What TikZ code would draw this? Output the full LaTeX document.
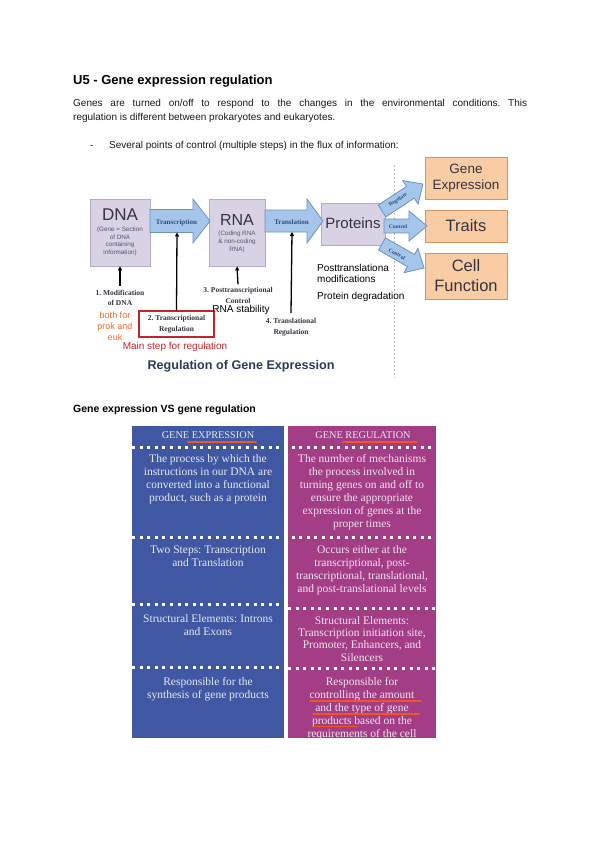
\documentclass[tikz,border=0pt]{standalone}
\usepackage{fontspec}
\setmainfont{Liberation Serif}
\setsansfont{Liberation Sans}
\usetikzlibrary{arrows.meta}
\frenchspacing
\definecolor{boxlav}{HTML}{D8D2E4}
\definecolor{boxlavd}{HTML}{B3AAC6}
\definecolor{arrfill}{HTML}{A5C5EA}
\definecolor{arrdraw}{HTML}{6B93C5}
\definecolor{arrtext}{HTML}{2E4D7E}
\definecolor{peach}{HTML}{F9CCA4}
\definecolor{peachd}{HTML}{D49660}
\definecolor{darktxt}{HTML}{34343F}
\definecolor{subtxt}{HTML}{55556A}
\definecolor{orng}{HTML}{EE6A2C}
\definecolor{redbox}{HTML}{C0272D}
\definecolor{navy}{HTML}{2B3A55}
\definecolor{colblue}{HTML}{4058A4}
\definecolor{colpink}{HTML}{A33D85}
\definecolor{bluetxt}{HTML}{E6E8F4}
\definecolor{pinktxt}{HTML}{F4E4EF}
\definecolor{uline}{HTML}{F0561E}
\tikzset{
  lavbox/.style={draw=boxlavd, fill=boxlav, line width=0.8pt, inner sep=0pt},
  peachbox/.style={draw=peachd, fill=peach, line width=0.8pt, inner sep=0pt, align=center, text=darktxt},
  arrsty/.style={draw=arrdraw, fill=arrfill, line width=0.8pt, line join=miter},
  arrlab/.style={font=\bfseries\fontsize{7}{8}\selectfont, text=arrtext, inner sep=0pt},
  smalllab/.style={font=\bfseries\fontsize{5.5}{6}\selectfont, text=arrtext, inner sep=0pt},
  steplab/.style={font=\bfseries\fontsize{7.5}{10.5}\selectfont, text=darktxt, align=center, inner sep=0pt},
  sanslab/.style={font=\sffamily\fontsize{10}{11}\selectfont, inner sep=0pt},
  thinarr/.style={line width=1.3pt, -{Triangle[length=4pt,width=4pt]}},
  dotsep/.style={draw=white, line width=3pt, dash pattern=on 3pt off 4.6pt},
  bluecell/.style={font=\fontsize{11.5}{12.9}\selectfont, text=bluetxt, align=center, inner sep=0pt, anchor=north},
  pinkcell/.style={font=\fontsize{11.5}{12.9}\selectfont, text=pinktxt, align=center, inner sep=0pt, anchor=north},
  headcell/.style={font=\fontsize{10.3}{12}\selectfont, inner sep=0pt},
  ulsty/.style={draw=uline, line width=1.6pt, line cap=round},
  bodytxt/.style={font=\sffamily\fontsize{10}{12}\selectfont, inner sep=0pt, anchor=base west, text=black!90}
}
\newcommand{\blockarr}[7]{% x, y, angle, length, body half, head half, head length
  \begin{scope}[shift={(#1,#2)}, rotate=#3]
    \draw[arrsty] (0,-#5) -- ({#4-#7},-#5) -- ({#4-#7},-#6) -- (#4,0) -- ({#4-#7},#6) -- ({#4-#7},#5) -- (0,#5) -- cycle;
  \end{scope}}
\newcommand{\firstline}{\rule{0pt}{9pt}}
\begin{document}
\begin{tikzpicture}[x=1pt,y=-1pt]
\useasboundingbox[fill=white] (0,0) rectangle (600,848);

% ---- heading and text
\node[font=\sffamily\bfseries\fontsize{13}{15}\selectfont, inner sep=0pt, anchor=base west] (title) at (73,85) {U5 - Gene expression regulation};
\node[bodytxt] (p1) at (73,106.5) {\makebox[454pt][s]{Genes are turned on/off to respond to the changes in the environmental conditions. This}};
\node[bodytxt] (p2) at (73,120.5) {regulation is different between prokaryotes and eukaryotes.};
\node[bodytxt] (dash) at (90,148) {-};
\node[bodytxt] (b1) at (109,148) {Several points of control (multiple steps) in the flux of information:};

% ---- top diagram
\draw[dash pattern=on 2pt off 2pt, draw=black!25, line width=0.9pt] (394,165) -- (394,378);

\node[lavbox, minimum width=60, minimum height=67] (dna) at (120,232.5) {};
\node[lavbox, minimum width=56, minimum height=67] (rna) at (237,232.5) {};
\node[lavbox, minimum width=64, minimum height=42] (prot) at (353,224) {};
\node[peachbox, minimum width=82, minimum height=42, font=\sffamily\fontsize{13.5}{16}\selectfont] (gexp) at (466,178) {Gene\\Expression};
\node[peachbox, minimum width=82, minimum height=32, font=\sffamily\fontsize{16.5}{18}\selectfont] (traits) at (466,226) {Traits};
\node[peachbox, minimum width=82, minimum height=46, font=\sffamily\fontsize{16.5}{20}\selectfont] (cell) at (466,276) {Cell\\Function};

\node[font=\sffamily\fontsize{17}{18}\selectfont, text=darktxt, inner sep=0pt] (dnat) at (120,215) {DNA};
\node[font=\sffamily\fontsize{6.3}{7.6}\selectfont, text=subtxt, align=center, inner sep=0pt] (dnas) at (120,241.5) {(Gene = Section\\of DNA\\containing\\information)};
\node[font=\sffamily\fontsize{16}{18}\selectfont, text=darktxt, inner sep=0pt] (rnat) at (237,220) {RNA};
\node[font=\sffamily\fontsize{6.3}{8}\selectfont, text=subtxt, align=center, inner sep=0pt] (rnas) at (237,242) {(Coding RNA\\\& non-coding\\RNA)};
\node[font=\sffamily\fontsize{15}{16}\selectfont, text=darktxt, inner sep=0pt] (prott) at (353,223) {Proteins};

% block arrows
\blockarr{150}{221}{0}{60}{11.5}{22}{17}
\blockarr{265}{221}{0}{58}{11}{22}{16}
\blockarr{384}{226}{0}{43}{7}{15}{18}
\blockarr{382}{211}{33.4}{49}{7}{14}{15}
\blockarr{382}{244}{-29.7}{48.4}{7}{14}{15}
\node[arrlab] (ltrc) at (176.5,222.5) {Transcription};
\node[arrlab] (ltrl) at (291.5,222.5) {Translation};
\node[smalllab] (lctl) at (398,227) {Control};
\node[smalllab, rotate=33.4] (lreg) at (398,200) {Regulate};
\node[smalllab, rotate=-29.7] (lctl2) at (397,254) {Control};
\coordinate (trcbot) at (177,232.5);
\coordinate (trlbot) at (292,232);

% labels under the flow
\node[steplab] (l1) at (120,298) {1. Modification\\of DNA};
\node[font=\sffamily\fontsize{9}{11}\selectfont, text=orng, align=center, inner sep=0pt] (both) at (115,326) {both for\\prok and\\euk};
\node[steplab, draw=redbox, line width=1.3pt, minimum width=75, minimum height=26] (l2) at (176.5,324) {2. Transcriptional\\Regulation};
\node[sanslab, text=redbox] (main) at (175,347) {Main step for regulation};
\node[steplab] (l3) at (238,295.5) {3. Posttranscriptional\\Control};
\node[sanslab, text=black] (rnastab) at (241,310) {RNA stability};
\node[steplab] (l4) at (291,327) {4. Translational\\Regulation};
\node[sanslab, anchor=west, align=left, font=\sffamily\fontsize{10}{11}\selectfont] (post) at (317,273.5) {Posttranslationa\\modifications};
\node[sanslab, anchor=west] (pdeg) at (317,297) {Protein degradation};
\node[font=\sffamily\bfseries\fontsize{12.6}{14}\selectfont, text=navy, inner sep=0pt] (rgt) at (241,366) {Regulation of Gene Expression};

\draw[thinarr] ([yshift=4pt]l1.north) -- (dna.south);
\draw[thinarr] (l2.north) -- (trcbot);
\draw[thinarr] ([yshift=3pt]l3.north) -- (rna.south);
\draw[thinarr] ([yshift=5pt]l4.north) -- (trlbot);

% ---- second heading
\node[font=\sffamily\bfseries\fontsize{10.5}{12}\selectfont, inner sep=0pt, anchor=base west] (h2) at (73,412) {Gene expression VS gene regulation};

% ---- table
\fill[colblue] (132,426) rectangle (284,738);
\fill[colpink] (288,426) rectangle (436,738);
\draw[dotsep] (132,447) -- (436,447);
\draw[dotsep] (132,537) -- (436,537);
\draw[dotsep] (132,604) -- (284,604);
\draw[dotsep] (132,667) -- (284,667);
\draw[dotsep] (288,608) -- (436,608);
\draw[dotsep] (288,668) -- (436,668);

\node[headcell, text=bluetxt] (hge) at (208,435) {GENE EXPRESSION};
\node[headcell, text=pinktxt] (hgr) at (363,435) {GENE REGULATION};
\draw[ulsty] (188,442) -- (256,442);
\draw[ulsty] (343,442) -- (417,442);

\node[bluecell] (b1c) at (208,453.5) {\firstline The process by which the\\instructions in our DNA are\\converted into a functional\\product, such as a protein};
\node[bluecell] (b2c) at (208,544.5) {\firstline Two Steps: Transcription\\and Translation};
\node[bluecell] (b3c) at (208,613.5) {\firstline Structural Elements: Introns\\and Exons};
\node[bluecell] (b4c) at (208,676.5) {\firstline Responsible for the\\synthesis of gene products};

\node[pinkcell] (p1c) at (362,453.5) {\firstline The number of mechanisms\\the process involved in\\turning genes on and off to\\ensure the appropriate\\expression of genes at the\\proper times};
\node[pinkcell] (p2c) at (362,544.5) {\firstline Occurs either at the\\transcriptional, post-\\transcriptional, translational,\\and post-translational levels};
\node[pinkcell, font=\fontsize{11.5}{12.3}\selectfont] (p3c) at (362,615) {\firstline Structural Elements:\\Transcription initiation site,\\Promoter, Enhancers, and\\Silencers};
\node[pinkcell] (p4c) at (362,676.5) {\firstline Responsible for\\controlling the amount\\and the type of gene\\products based on the\\requirements of the cell};
\draw[ulsty] (310,701) -- (421,701);
\draw[ulsty] (313,714) -- (419,714);
\draw[ulsty] (313,726.5) -- (357,726.5);
\end{tikzpicture}
\end{document}
